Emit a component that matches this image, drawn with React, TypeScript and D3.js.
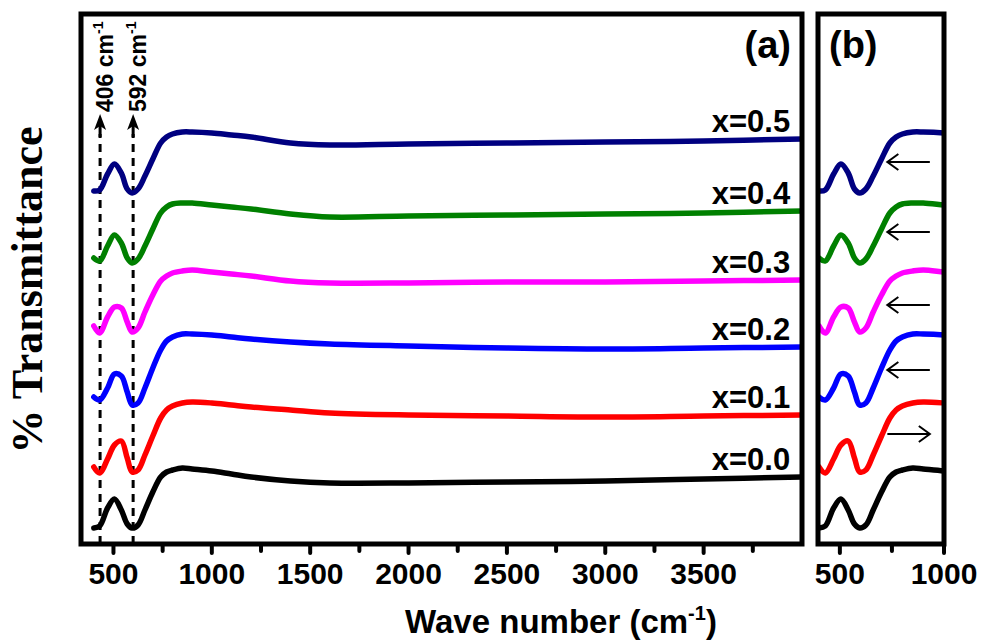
import React from "react";
import * as d3 from "d3";

// ---------- data ----------
const WAVENUMBER = [400, 430, 470, 505, 540, 570, 595, 625, 660, 700, 740, 770, 800, 850, 900, 1000, 1100, 1200, 1400, 1600, 2000, 2500, 3000, 3500, 4000];

const T_X00 = [3.2, 3.6, 7.2, 9.0, 6.8, 4.0, 3.2, 3.8, 6.8, 10.4, 13.4, 14.4, 14.8, 15.2, 15.0, 14.6, 14.0, 13.4, 12.6, 12.2, 12.2, 12.4, 12.6, 13.0, 13.4];
const T_X01 = [15.4, 14.2, 17.0, 19.8, 20.6, 17.2, 14.4, 14.8, 17.8, 21.6, 25.2, 26.8, 27.6, 28.2, 28.4, 28.2, 27.8, 27.4, 26.8, 26.2, 25.8, 25.6, 25.4, 25.6, 25.8];
const T_X02 = [29.4, 28.8, 31.2, 34.0, 33.6, 30.4, 27.8, 28.2, 31.2, 35.2, 38.8, 40.6, 41.4, 42.0, 42.0, 41.8, 41.4, 41.0, 40.4, 40.0, 39.6, 39.2, 39.0, 39.2, 39.4];
const T_X03 = [43.6, 42.2, 45.4, 47.4, 47.2, 44.4, 42.4, 43.2, 46.4, 49.8, 52.6, 53.6, 54.2, 54.6, 54.8, 54.4, 54.0, 53.6, 52.6, 52.2, 52.2, 52.4, 52.4, 52.6, 52.8];
const T_X04 = [57.2, 56.6, 59.6, 61.8, 60.2, 57.2, 56.2, 57.0, 59.6, 63.0, 66.2, 67.4, 68.0, 68.2, 68.2, 67.8, 67.4, 67.0, 66.0, 65.4, 65.6, 65.8, 66.0, 66.2, 66.6];
const T_X05 = [70.6, 70.8, 74.0, 76.0, 74.2, 71.0, 70.2, 71.0, 73.6, 77.0, 80.2, 81.4, 82.0, 82.4, 82.4, 82.2, 81.8, 81.4, 80.2, 79.8, 80.0, 80.2, 80.4, 80.6, 81.0];

const SERIES_LABELS = ["x=0.0", "x=0.1", "x=0.2", "x=0.3", "x=0.4", "x=0.5"];
const SERIES_VALUES = [T_X00, T_X01, T_X02, T_X03, T_X04, T_X05];

// shift arrows in panel (b): direction and level
const SHIFT_DIR = ["", "right", "left", "left", "left", "left"];
const SHIFT_LEVEL = [0, 22.0, 34.8, 47.8, 62.4, 76.4];
const SHIFT_FROM = 728;
const SHIFT_TO = 932;

// band markers in panel (a)
const BAND_POS = [432, 600];
const BAND_LABELS = ["406 cm", "592 cm"];

const TICKS_A = [500, 1000, 1500, 2000, 2500, 3000, 3500];
const MINOR_A = [750, 1250, 1750, 2250, 2750, 3250, 3750];
const TICKS_B = [500, 1000];
const MINOR_B = [750];

// ---------- styles ----------
const COLORS = ["#000000", "#ff0000", "#0000ff", "#ff00ff", "#008000", "#000080"];
const SANS = "'Liberation Sans', Arial, sans-serif";
const SERIF = "'Liberation Serif', 'Times New Roman', serif";

export default function App() {
  const W = 984, H = 642;
  const top = 14, bottom = 544;
  const xA = d3.scaleLinear().domain([335, 4000]).range([81, 802]);
  const xB = d3.scaleLinear().domain([395, 1000]).range([818, 944]);
  const y = d3.scaleLinear().domain([0, 106]).range([bottom, top]);

  const mkLine = (xs: d3.ScaleLinear<number, number>) =>
    d3.line<number>()
      .x((_, i) => xs(WAVENUMBER[i]))
      .y((v) => y(v))
      .curve(d3.curveCatmullRom.alpha(0.5));
  const lineA = mkLine(xA);
  const lineB = mkLine(xB);

  const tick = (xs: any, v: number, major: boolean, key: string) => (
    <line key={key} x1={xs(v)} x2={xs(v)} y1={bottom} y2={bottom + (major ? 9 : 7)}
      stroke="#000" strokeWidth={4} strokeLinecap="round" />
  );

  return (
    <svg width={W} height={H} style={{ position: "absolute", left: 0, top: 0, background: "#fff" }}>
      <defs>
        <clipPath id="clipA"><rect x={xA.range()[0]} y={top} width={xA.range()[1] - xA.range()[0]} height={bottom - top} /></clipPath>
        <clipPath id="clipB"><rect x={xB.range()[0]} y={top} width={xB.range()[1] - xB.range()[0]} height={bottom - top} /></clipPath>
      </defs>

      {/* band markers */}
      {BAND_POS.map((wn, i) => {
        const x = xA(wn);
        return (
          <g key={"band" + i}>
            <line x1={x} x2={x} y1={bottom} y2={134} stroke="#000" strokeWidth={3} strokeDasharray="8,6" />
            <line x1={x} x2={x} y1={137} y2={124} stroke="#000" strokeWidth={3} />
            <path d={`M${x},${114} L${x + 6},${130} L${x},${126} L${x - 6},${130} Z`} fill="#000" />
            <text transform={`translate(${x + 13},${112}) rotate(-90)`} fontFamily={SANS} fontWeight="bold" fontSize={23} fill="#000">
              {BAND_LABELS[i]}
              <tspan dy={-10} fontSize={14}>-1</tspan>
            </text>
          </g>
        );
      })}

      {/* panel (a) curves */}
      <g clipPath="url(#clipA)">
        {SERIES_VALUES.map((vals, i) => (
          <path key={"a" + i} d={lineA(vals) || ""} fill="none" stroke={COLORS[i]} strokeWidth={5.5} strokeLinejoin="round" strokeLinecap="round" />
        ))}
      </g>
      {SERIES_VALUES.map((vals, i) => (
        <text key={"lab" + i} x={xA(3940)} y={y(vals[vals.length - 1]) - 7} textAnchor="end"
          fontFamily={SANS} fontWeight="bold" fontSize={31} fill="#000">{SERIES_LABELS[i]}</text>
      ))}

      {/* panel (b) curves */}
      <g clipPath="url(#clipB)">
        {SERIES_VALUES.map((vals, i) => (
          <path key={"b" + i} d={lineB(vals) || ""} fill="none" stroke={COLORS[i]} strokeWidth={5.5} strokeLinejoin="round" strokeLinecap="round" />
        ))}
      </g>
      {SHIFT_DIR.map((dir, i) => {
        if (!dir) return null;
        const x1 = xB(SHIFT_FROM), x2 = xB(SHIFT_TO), yy = y(SHIFT_LEVEL[i]);
        const hx = dir === "left" ? x1 : x2;
        const s = dir === "left" ? 1 : -1;
        return (
          <g key={"arr" + i} stroke="#000" strokeWidth={2} fill="none">
            <line x1={x1} x2={x2} y1={yy} y2={yy} />
            <path d={`M${hx + s * 11},${yy - 8} L${hx},${yy} L${hx + s * 11},${yy + 8}`} />
          </g>
        );
      })}

      {/* frames */}
      <rect x={xA.range()[0]} y={top} width={xA.range()[1] - xA.range()[0]} height={bottom - top} fill="none" stroke="#000" strokeWidth={5} />
      <rect x={xB.range()[0]} y={top} width={xB.range()[1] - xB.range()[0]} height={bottom - top} fill="none" stroke="#000" strokeWidth={5} />

      {/* ticks */}
      {TICKS_A.map((v) => tick(xA, v, true, "ta" + v))}
      {MINOR_A.map((v) => tick(xA, v, false, "ma" + v))}
      {TICKS_B.map((v) => tick(xB, v, true, "tb" + v))}
      {MINOR_B.map((v) => tick(xB, v, false, "mb" + v))}
      {TICKS_A.map((v) => (
        <text key={"tla" + v} x={xA(v)} y={584} textAnchor="middle" fontFamily={SANS} fontWeight="bold" fontSize={30}>{v}</text>
      ))}
      {TICKS_B.map((v) => (
        <text key={"tlb" + v} x={xB(v)} y={584} textAnchor="middle" fontFamily={SANS} fontWeight="bold" fontSize={30}>{v}</text>
      ))}

      {/* panel labels */}
      <text x={791} y={58} textAnchor="end" fontFamily={SANS} fontWeight="bold" fontSize={38}>(a)</text>
      <text x={829} y={58} fontFamily={SANS} fontWeight="bold" fontSize={38}>(b)</text>

      {/* axis titles */}
      <text x={561} y={633} textAnchor="middle" fontFamily={SANS} fontWeight="bold" fontSize={33}>
        Wave number (cm<tspan dy={-13} fontSize={20}>-1</tspan><tspan dy={13}>)</tspan>
      </text>
      <text transform="translate(42,290) rotate(-90)" textAnchor="middle" fontFamily={SERIF} fontWeight="bold" fontSize={44}>
        % Transmittance
      </text>
    </svg>
  );
}
